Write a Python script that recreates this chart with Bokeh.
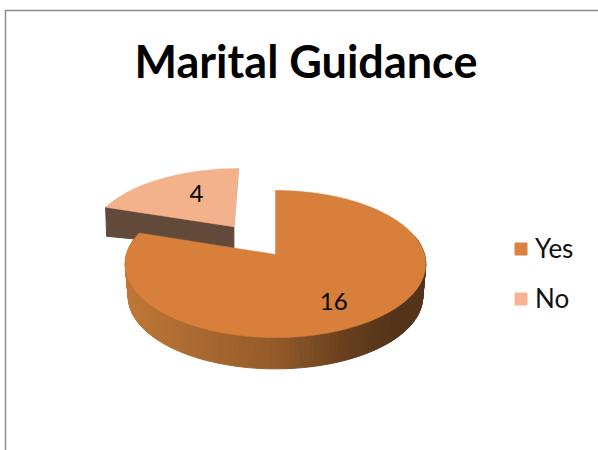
import math
from bokeh.plotting import figure
from bokeh.models import Range1d, Legend, LegendItem
from bokeh.core.properties import value
from bokeh.embed import file_html
from bokeh.resources import INLINE

title_text = "Marital Guidance"
categories = ["Yes", "No"]
values = [16, 4]
labels = ["16", "4"]
colors = ["#D87F3B", "#F4B28C"]
legend_colors = ["#DA823E", "#FBB38F"]

# layout of the tilted pie (pixels)
CX, CY, RX, RY, PERSP = 275.0, 254.0, 149.0, 72.3, 0.129
DEPTH = 33.0
BOTTOM_SCALE = 0.98
EXPLODE = 0.5
LABEL_R = [0.70, 0.62]
LABEL_SHIFT = [5.0, 7.0]

p = figure(width=598, height=450, output_backend="svg", toolbar_location=None,
           x_range=Range1d(0, 598), y_range=Range1d(450, 0),
           min_border=0, outline_line_color=None, background_fill_color="white")
p.axis.visible = False
p.grid.visible = False


def project(u, v, scale=1.0, dy=0.0):
    w = 1 + PERSP * v
    return CX + scale * RX * u / w, CY - scale * RY * v / w + dy


def pol(t, r=1.0):
    a = math.radians(t)
    return r * math.sin(a), r * math.cos(a)


def mix(stops, x):
    if x <= stops[0][0]:
        return "#%02x%02x%02x" % stops[0][1]
    for (x0, c0), (x1, c1) in zip(stops, stops[1:]):
        if x <= x1:
            f = (x - x0) / (x1 - x0)
            rgb = [round(c0[i] + f * (c1[i] - c0[i])) for i in range(3)]
            return "#%02x%02x%02x" % tuple(rgb)
    return "#%02x%02x%02x" % stops[-1][1]


total = sum(values)
angles = [0.0]
for val in values:
    angles.append(angles[-1] + val / total * 360.0)
t0_main, t1_main = angles[0], angles[1]
t0_sl, t1_sl = angles[1], angles[2]
mid_sl = (t0_sl + t1_sl) / 2
ex_u, ex_v = pol(mid_sl, EXPLODE)

# exploded slice: wall then top face
def sl(t, r=1.0):
    u, v = pol(t, r)
    return project(u + ex_u, v + ex_v)

tip = sl(t0_sl)
apex = project(ex_u, ex_v)
end = sl(t1_sl)
p.patch([tip[0], apex[0], apex[0], tip[0] + 1], [tip[1], apex[1], apex[1] + 22, tip[1] + 29],
        fill_color="#614A3A", line_color="#614A3A", line_width=1)
p.line([end[0], apex[0]], [end[1], apex[1]], line_color="#c4b3a8", line_width=1.5)

ts = [t0_sl + (t1_sl - t0_sl) * i / 60 for i in range(61)]
pts = [sl(t) for t in ts]
xs_sl = [apex[0]] + [q[0] for q in pts]
ys_sl = [apex[1]] + [q[1] for q in pts]
r_sl = p.patch(xs_sl, ys_sl, fill_color=colors[1], line_color=colors[1], line_width=0.5)

# main slice: shaded side in narrow strips
stops = [(128, (190, 118, 54)), (275, (146, 90, 42)), (345, (104, 63, 28)), (395, (83, 51, 26)), (430, (83, 51, 26))]
n = 120
side_start, side_end = 75.0, t1_main - 5
sx, sy, sc = [], [], []
for i in range(n):
    a = side_start + (side_end - side_start) * i / n
    b = side_start + (side_end - side_start) * (i + 1) / n
    ua, va = pol(a)
    ub, vb = pol(b)
    qa, qb = project(ua, va), project(ub, vb)
    qc, qd = project(ub, vb, BOTTOM_SCALE, DEPTH), project(ua, va, BOTTOM_SCALE, DEPTH)
    sx.append([qa[0], qb[0], qc[0], qd[0]])
    sy.append([qa[1], qb[1], qc[1], qd[1]])
    sc.append(mix(stops, (qa[0] + qb[0]) / 2))
p.patches(sx, sy, fill_color=sc, line_color=sc, line_width=1)

ts = [t0_main + (t1_main - t0_main) * i / 240 for i in range(241)]
pts = [project(*pol(t)) for t in ts]
r_main = p.patch([CX] + [q[0] for q in pts], [CY] + [q[1] for q in pts],
                 fill_color=colors[0], line_color=colors[0], line_width=0.5)
top_pt = project(*pol(t0_main))
p.line([top_pt[0], CX], [top_pt[1], CY], line_color="#b9a99c", line_width=1.2)

# value labels
lx, ly = [], []
for i, val in enumerate(values):
    t = (angles[i] + angles[i + 1]) / 2 + LABEL_SHIFT[i]
    u, v = pol(t, LABEL_R[i])
    if i == 1:
        u, v = u + ex_u, v + ex_v
    q = project(u, v)
    lx.append(q[0])
    ly.append(q[1])
p.text(lx, ly, text=labels, text_font=value("Lato"), text_font_size="24px",
       text_color="#000000", text_align="center", text_baseline="middle")

# chart frame and title
p.line([5, 5, 598], [450, 10, 10], line_color="#8c8c8c", line_width=1.5)
p.text([305.5], [60], text=[title_text], text_font=value("Lato"), text_font_style="bold",
       text_font_size="45px", text_color="#000000", text_align="center", text_baseline="middle")

# legend
k_yes = p.quad(left=[-50], right=[-40], top=[-50], bottom=[-40], color=legend_colors[0])
k_no = p.quad(left=[-50], right=[-40], top=[-50], bottom=[-40], color=legend_colors[1])
legend = Legend(items=[LegendItem(label=categories[0], renderers=[k_yes]),
                       LegendItem(label=categories[1], renderers=[k_no])],
                location=(503, 450 - 324), orientation="vertical",
                glyph_width=15, glyph_height=15, label_text_font="Lato", label_text_font_size="26px",
                label_text_color="#111111", spacing=18, label_standoff=7,
                background_fill_alpha=0, border_line_alpha=0)
p.add_layout(legend, "center")

open("out.html", "w").write(file_html(p, INLINE))
